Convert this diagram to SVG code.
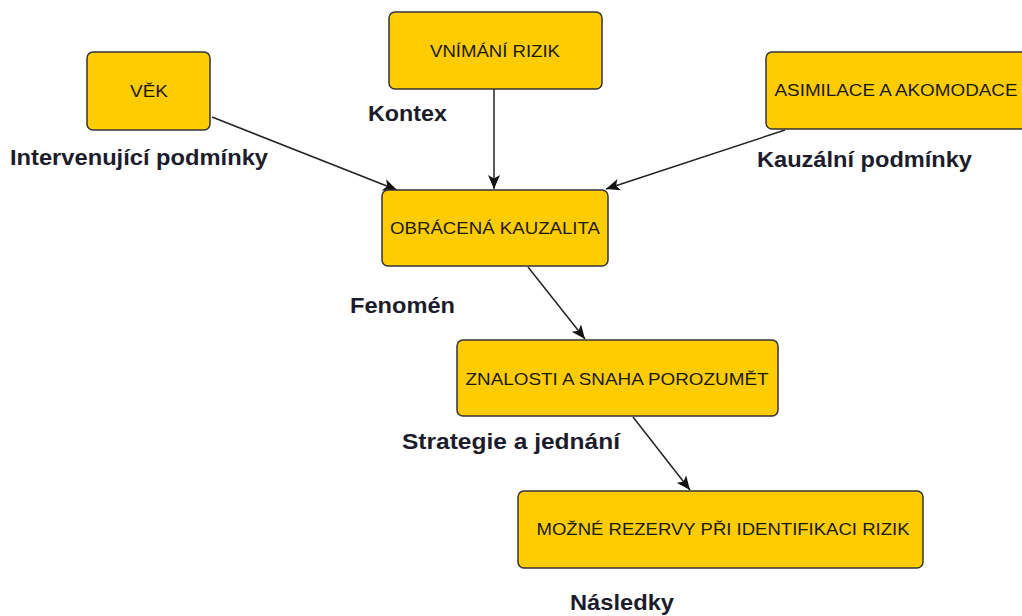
<svg xmlns="http://www.w3.org/2000/svg" width="1022" height="616" viewBox="0 0 1022 616">
<style>
.box{fill:#ffcc00;stroke:#333333;stroke-width:1.5}
.nt{font-family:"Liberation Sans",Arial,sans-serif;font-size:17px;fill:#1a1a00;text-anchor:middle}
.lb{font-family:"Liberation Sans",Arial,sans-serif;font-size:22px;font-weight:bold;fill:#1c1c2c}
.edge{stroke:#222222;stroke-width:1.5;fill:none;marker-end:url(#arr)}
</style>
<defs>
<marker id="arr" markerUnits="userSpaceOnUse" markerWidth="16" markerHeight="14" refX="14" refY="6" orient="auto">
<path d="M0,0 L14,6 L0,12 L3.5,6 z" fill="#111111"/>
</marker>
</defs>
<rect width="1022" height="616" fill="#ffffff"/>
<g id="connectors">
<line class="edge" x1="212" y1="117" x2="397" y2="190"/>
<line class="edge" x1="494" y1="89" x2="494" y2="189"/>
<line class="edge" x1="785" y1="130" x2="606" y2="189"/>
<line class="edge" x1="528" y1="267" x2="585" y2="339"/>
<line class="edge" x1="633" y1="417" x2="690" y2="490"/>
</g>
<g id="node-vek">
<rect class="box" x="87" y="52" width="123" height="78" rx="6"/>
<text class="nt" x="149" y="97" textLength="38" lengthAdjust="spacingAndGlyphs">VĚK</text>
</g>
<g id="node-vnimani">
<rect class="box" x="389" y="12" width="213" height="77" rx="6"/>
<text class="nt" x="495" y="57" textLength="130" lengthAdjust="spacingAndGlyphs">VNÍMÁNÍ RIZIK</text>
</g>
<g id="node-asimilace">
<rect class="box" x="766" y="52" width="270" height="77" rx="6"/>
<text class="nt" x="896" y="96" textLength="243" lengthAdjust="spacingAndGlyphs">ASIMILACE A AKOMODACE</text>
</g>
<g id="node-obracena">
<rect class="box" x="382" y="190" width="226" height="76" rx="6"/>
<text class="nt" x="495" y="234" textLength="210" lengthAdjust="spacingAndGlyphs">OBRÁCENÁ KAUZALITA</text>
</g>
<g id="node-znalosti">
<rect class="box" x="457" y="340" width="321" height="76" rx="6"/>
<text class="nt" x="617" y="385" textLength="303" lengthAdjust="spacingAndGlyphs">ZNALOSTI A SNAHA POROZUMĚT</text>
</g>
<g id="node-mozne">
<rect class="box" x="518" y="491" width="405" height="77" rx="6"/>
<text class="nt" x="723" y="535" textLength="373" lengthAdjust="spacingAndGlyphs">MOŽNÉ REZERVY PŘI IDENTIFIKACI RIZIK</text>
</g>
<g id="labels">
<text class="lb" x="368" y="121" textLength="79" lengthAdjust="spacingAndGlyphs">Kontex</text>
<text class="lb" x="10" y="165" textLength="258" lengthAdjust="spacingAndGlyphs">Intervenující podmínky</text>
<text class="lb" x="757" y="167" textLength="215" lengthAdjust="spacingAndGlyphs">Kauzální podmínky</text>
<text class="lb" x="350" y="313" textLength="105" lengthAdjust="spacingAndGlyphs">Fenomén</text>
<text class="lb" x="402" y="449" textLength="218" lengthAdjust="spacingAndGlyphs">Strategie a jednání</text>
<text class="lb" x="570" y="610" textLength="104" lengthAdjust="spacingAndGlyphs">Následky</text>
</g>
</svg>
